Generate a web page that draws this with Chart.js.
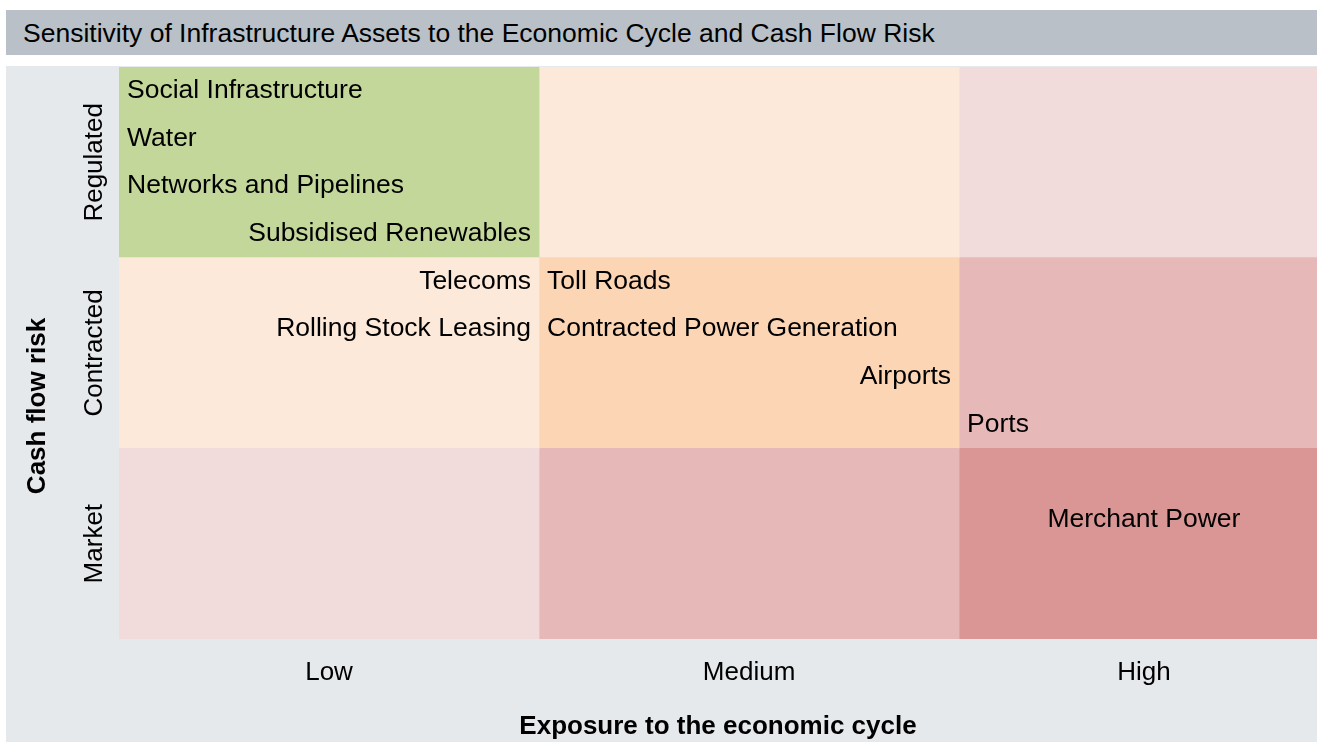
<!DOCTYPE html>
<html lang="en">
<head>
  <meta charset="UTF-8" />
  <title>Sensitivity of Infrastructure Assets</title>
  <script src="https://cdn.jsdelivr.net/npm/chart.js"></script>
  <style>
    html, body { margin: 0; padding: 0; background: #fff; overflow: hidden; }
    body { width: 1317px; height: 742px; position: relative; font-family: 'Liberation Sans', Arial, sans-serif; }
    #titleBar {
      position: absolute; left: 6px; top: 10px; width: 1311px; height: 45px;
      background: #b9c0c7; color: #000; font-size: 26.5px; line-height: 45px;
      padding-left: 17px; box-sizing: border-box; padding-top: 1px; white-space: nowrap;
    }
    #plotBox {
      position: absolute; left: 6px; top: 66px; width: 1311px; height: 676px;
      background: #e5e9ec;
    }
  </style>
</head>
<body>
  <div id="titleBar">Sensitivity of Infrastructure Assets to the Economic Cycle and Cash Flow Risk</div>
  <div id="plotBox"><canvas id="matrix" width="1311" height="676"></canvas></div>

  <script>
    // rows (cash flow risk) and columns (exposure to the economic cycle)
    const riskLevels = ['Regulated', 'Contracted', 'Market'];
    const exposureLevels = ['Low', 'Medium', 'High'];
    // width of each column in axis units (the High column is cut at the right edge)
    const exposureSpan = [1, 1, 0.88];
    const exposureMax = 2.852;

    // assets placed in the matrix
    const assetNames = ['Social Infrastructure', 'Water', 'Networks and Pipelines', 'Subsidised Renewables',
      'Telecoms', 'Rolling Stock Leasing', 'Toll Roads', 'Contracted Power Generation', 'Airports',
      'Ports', 'Merchant Power'];
    const assetRisk = [0, 0, 0, 0, 1, 1, 1, 1, 1, 1, 2];
    const assetExposure = [0, 0, 0, 0, 0, 0, 1, 1, 1, 2, 2];
    const assetSlot = [0, 1, 2, 3, 0, 1, 0, 1, 2, 3, 1];   // line within the row (4 per row)
    const assetSide = ['left', 'left', 'left', 'right', 'right', 'right', 'left', 'left', 'right', 'left', 'center'];

    const cellColors = [
      ['#c4d79b', '#fde9d9', '#f2dcdb'],
      ['#fde9d9', '#fcd5b4', '#e6b8b7'],
      ['#f2dcdb', '#e6b8b7', '#da9694']
    ];

    const FONT = "'Liberation Sans', Arial, sans-serif";
    Chart.defaults.font.family = FONT;
    Chart.defaults.color = '#000';

    const colStart = exposureSpan.map((s, i) => exposureSpan.slice(0, i).reduce((a, b) => a + b, 0));
    const tickPos = colStart.map((s, i) => s + exposureSpan[i] / 2);

    const datasets = exposureLevels.map((lvl, c) => ({
      label: lvl,
      data: riskLevels.map(() => exposureSpan[c]),
      backgroundColor: riskLevels.map((r, ri) => cellColors[ri][c]),
      borderWidth: 0,
      barPercentage: 1,
      categoryPercentage: 1
    }));

    // asset names written inside the cells
    const assetLabels = {
      id: 'assetLabels',
      afterDatasetsDraw(chart) {
        const { ctx, scales: { x, y } } = chart;
        const band = y.getPixelForValue(1) - y.getPixelForValue(0);
        ctx.save();
        ctx.font = '26.5px ' + FONT;
        ctx.fillStyle = '#000';
        ctx.textBaseline = 'middle';
        assetNames.forEach((name, i) => {
          const c = assetExposure[i];
          const left = x.getPixelForValue(colStart[c]);
          const right = x.getPixelForValue(colStart[c] + exposureSpan[c]);
          const top = y.getPixelForValue(assetRisk[i]) - band / 2;
          const ty = top + (assetSlot[i] + 0.5) * band / 4;
          let tx;
          if (assetSide[i] === 'left') { ctx.textAlign = 'left'; tx = left + 8; }
          else if (assetSide[i] === 'right') { ctx.textAlign = 'right'; tx = right - 8; }
          else { ctx.textAlign = 'center'; tx = (left + right) / 2; }
          ctx.fillText(name, tx, ty);
        });
        ctx.restore();
      }
    };

    // vertical axis title, centred on the whole panel height
    const riskTitle = {
      id: 'riskTitle',
      afterDraw(chart) {
        const ctx = chart.ctx;
        ctx.save();
        ctx.translate(32, 340);
        ctx.rotate(-Math.PI / 2);
        ctx.font = 'bold 26px ' + FONT;
        ctx.fillStyle = '#000';
        ctx.textAlign = 'center';
        ctx.textBaseline = 'middle';
        ctx.fillText('Cash flow risk', 0, 0);
        ctx.restore();
      }
    };

    new Chart(document.getElementById('matrix'), {
      type: 'bar',
      data: { labels: riskLevels, datasets },
      plugins: [assetLabels, riskTitle],
      options: {
        indexAxis: 'y',
        responsive: false,
        animation: false,
        devicePixelRatio: 1,
        layout: { padding: { top: 1, left: 0, right: 0, bottom: 0 } },
        plugins: { legend: { display: false }, tooltip: { enabled: false } },
        scales: {
          x: {
            type: 'linear',
            stacked: true,
            min: 0,
            max: exposureMax,
            grid: { display: false, drawTicks: false },
            border: { display: false },
            afterBuildTicks: s => { s.ticks = tickPos.map(v => ({ value: v })); },
            afterFit: s => { s.height = 103; },
            ticks: {
              autoSkip: false,
              maxRotation: 0,
              padding: 18,
              font: { size: 26 },
              callback: (v, i) => exposureLevels[i]
            },
            title: {
              display: true,
              text: 'Exposure to the economic cycle',
              font: { size: 26, weight: 'bold' },
              padding: { top: 0, bottom: 0 }
            }
          },
          y: {
            stacked: true,
            grid: { display: false, drawTicks: false },
            border: { display: false },
            afterFit: s => { s.width = 113; },
            ticks: {
              minRotation: 90,
              maxRotation: 90,
              crossAlign: 'center',
              padding: -39,
              font: { size: 26 }
            }
          }
        }
      }
    });
  </script>
</body>
</html>
